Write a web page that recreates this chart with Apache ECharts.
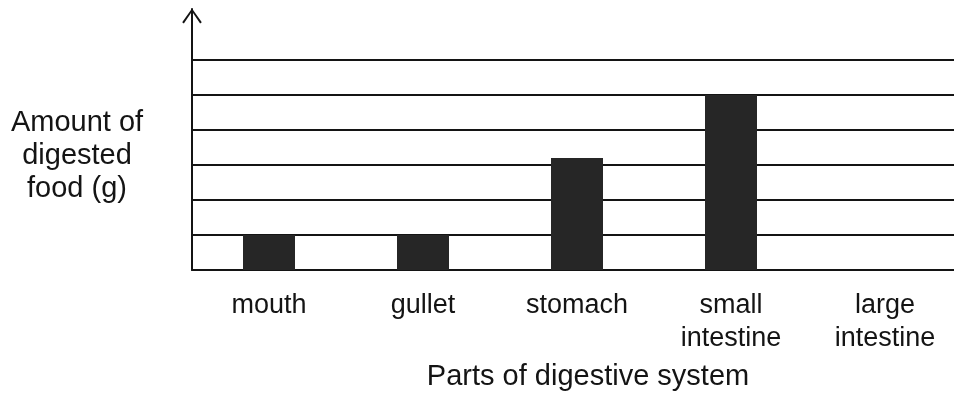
<!DOCTYPE html>
<html>
<head>
<meta charset="utf-8">
<title>Amount of digested food</title>
<script src="https://cdn.jsdelivr.net/npm/echarts@6/dist/echarts.min.js"></script>
<style>
  html, body { margin: 0; padding: 0; background: #ffffff; }
  #chart { width: 954px; height: 401px; }
</style>
</head>
<body>
<div id="chart"></div>
<script>
// Parts of the digestive system and the digested food measured in each
const categories = ['mouth', 'gullet', 'stomach', 'small\nintestine', 'large\nintestine'];
const digestedFood = [1, 1, 3.2, 5, 0];

// Value axis: one ruled line per gram up to 6, the axis arrow reaches above that
const yMin = 0;
const yMax = 7.46;
const yStep = 1;

const FONT = '"Liberation Sans", Arial, Helvetica, sans-serif';
const INK = '#141414';

// Ruled lines for ticks 0..6 are drawn; the ticks above 6 stay blank
const ruleColors = [INK, INK, INK, INK, INK, INK, INK, 'rgba(0,0,0,0)', 'rgba(0,0,0,0)'];

const chart = echarts.init(document.getElementById('chart'), null, { renderer: 'canvas' });

chart.setOption({
  backgroundColor: '#ffffff',
  animation: false,
  grid: {
    left: 192, top: 9, width: 770, bottom: 131,
    containLabel: false,
    outerBoundsMode: 'none'
  },
  xAxis: {
    type: 'category',
    data: categories,
    boundaryGap: true,
    axisLine: { show: true, lineStyle: { color: INK, width: 2 } },
    axisTick: { show: false },
    axisLabel: {
      margin: 19,
      color: INK,
      fontFamily: FONT,
      fontSize: 27,
      lineHeight: 33,
      interval: 0
    },
    splitLine: { show: false },
    name: 'Parts of digestive system',
    nameLocation: 'middle',
    nameGap: 92,
    nameTextStyle: {
      color: INK,
      fontFamily: FONT,
      fontSize: 29,
      padding: [0, 0, 0, 22]
    }
  },
  yAxis: {
    type: 'value',
    min: yMin,
    max: yMax,
    interval: yStep,
    axisLine: {
      show: true,
      lineStyle: { color: INK, width: 2 },
      symbol: ['none', 'path://M10,0 L0,14 L1.7,15.3 L10,3 L18.3,15.3 L20,14 Z'],
      symbolSize: [20, 15],
      symbolOffset: [0, -7]
    },
    axisTick: { show: false },
    axisLabel: { show: false },
    splitLine: {
      show: true,
      lineStyle: { color: ruleColors, width: 2 }
    },
    // leading blank line lowers the three-line title below the axis middle
    name: '\nAmount of\ndigested\nfood (g)',
    nameLocation: 'middle',
    nameRotate: 0,
    nameGap: 115,
    nameTextStyle: {
      color: INK,
      fontFamily: FONT,
      fontSize: 29,
      lineHeight: 33,
      align: 'center'
    }
  },
  series: [{
    type: 'bar',
    data: digestedFood,
    barWidth: 52,
    itemStyle: { color: '#262626' },
    z: 3
  }]
});
</script>
</body>
</html>
